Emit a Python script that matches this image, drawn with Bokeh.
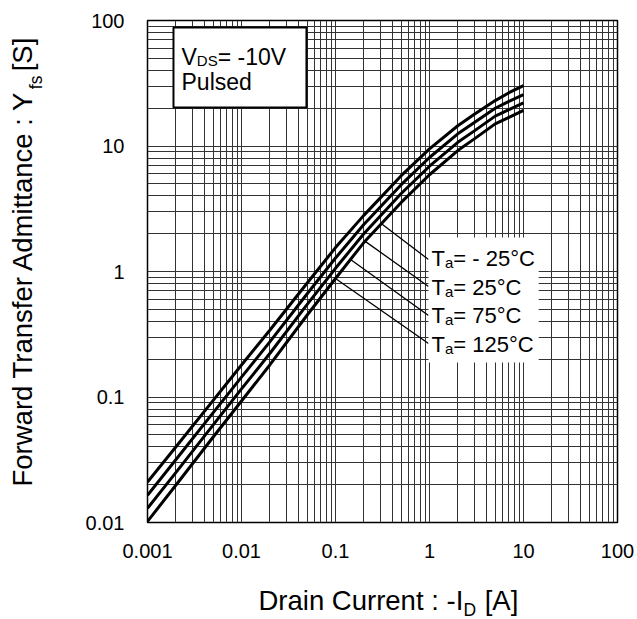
import math
from bokeh.plotting import figure
from bokeh.models import Label, BoxAnnotation, FixedTicker, CustomJSTickFormatter, Range1d
from bokeh.embed import file_html
from bokeh.resources import INLINE

# ---- data ----
current = [0.001, 0.002, 0.005, 0.01, 0.02, 0.05, 0.1, 0.2, 0.5, 1, 2, 3, 5, 7, 10]
yfs_m25 = [0.021, 0.040, 0.094, 0.18, 0.34, 0.81, 1.55, 2.8, 5.8, 9.5, 14.5, 17.9, 23.0, 26.6, 30.3]
yfs_25 = [0.0165, 0.0316, 0.075, 0.144, 0.275, 0.665, 1.28, 2.37, 4.92, 8.1, 12.5, 15.4, 20.0, 22.7, 25.7]
yfs_75 = [0.013, 0.025, 0.060, 0.116, 0.222, 0.547, 1.06, 2.0, 4.18, 6.9, 10.7, 13.2, 17.3, 19.5, 22.1]
yfs_125 = [0.0102, 0.0198, 0.048, 0.093, 0.18, 0.45, 0.88, 1.70, 3.55, 5.9, 9.2, 11.4, 15.0, 16.9, 19.2]

x_ticks = [0.001, 0.01, 0.1, 1, 10, 100]
x_tick_labels = ["0.001", "0.01", "0.1", "1", "10", "100"]
y_ticks = [0.01, 0.1, 1, 10, 100]
y_tick_labels = ["0.01", "0.1", "1", "10", "100"]

temp_labels = ["= - 25°C", "= 25°C", "= 75°C", "= 125°C"]
# leader lines (data units): start on curve, end at label
leader_x0 = [0.301, 0.209, 0.1445, 0.100]
leader_y0 = [2.43, 1.73, 1.246, 0.88]
leader_x1 = [0.976, 0.976, 0.976, 0.976]
leader_y1 = [1.246, 0.76, 0.446, 0.267]

FONT = "Liberation Sans"

p = figure(width=637, height=619, x_axis_type="log", y_axis_type="log",
           x_range=Range1d(0.001, 100), y_range=Range1d(0.01, 100),
           output_backend="svg", toolbar_location=None,
           min_border_left=147, min_border_right=20, min_border_top=20, min_border_bottom=97)
p.background_fill_color = "white"
p.border_fill_color = "white"
p.outline_line_color = "black"
p.outline_line_width = 1.5


def minor_of(ticks):
    out = []
    for t in ticks[:-1]:
        for m in range(2, 10):
            out.append(t * m)
    return out


p.xaxis.ticker = FixedTicker(ticks=x_ticks, minor_ticks=minor_of(x_ticks))
p.yaxis.ticker = FixedTicker(ticks=y_ticks, minor_ticks=minor_of(y_ticks))
fmt_code = """
const i = tv.findIndex(t => Math.abs(Math.log10(t) - Math.log10(tick)) < 1e-6);
return i >= 0 ? tl[i] : "";
"""
p.xaxis.formatter = CustomJSTickFormatter(args=dict(tv=x_ticks, tl=x_tick_labels), code=fmt_code)
p.yaxis.formatter = CustomJSTickFormatter(args=dict(tv=y_ticks, tl=y_tick_labels), code=fmt_code)

for ax in (p.xaxis, p.yaxis):
    ax.axis_line_color = None
    ax.major_tick_line_color = None
    ax.minor_tick_line_color = None
    ax.major_tick_out = 0
    ax.major_tick_in = 0
    ax.major_label_text_font = FONT
    ax.major_label_text_font_size = "20px"
    ax.major_label_text_color = "black"
p.xaxis.major_label_standoff = 17
p.yaxis.major_label_standoff = 19

for g in (p.xgrid, p.ygrid):
    g.grid_line_color = "#333333"
    g.grid_line_width = 1
    g.minor_grid_line_color = "#333333"
    g.minor_grid_line_width = 1

for ys in (yfs_m25, yfs_25, yfs_75, yfs_125):
    p.line(current, ys, line_color="black", line_width=3)

p.segment(x0=leader_x0, y0=leader_y0, x1=leader_x1, y1=leader_y1, line_color="black", line_width=1.3)

# white background behind temperature labels
p.add_layout(BoxAnnotation(left=0.976, right=14.5, bottom=0.188, top=1.866,
                           fill_color="white", fill_alpha=1.0, line_color=None))
# condition box
p.add_layout(BoxAnnotation(left=0.00189, right=0.0491, bottom=20.3, top=88,
                           fill_color="white", fill_alpha=1.0, line_color="black",
                           line_alpha=1.0, line_width=2))


def txt(x, y, s, size, angle=0.0, place="center"):
    lab = Label(x=x, y=y, x_units="screen", y_units="screen", text=s,
                text_font=FONT, text_font_size=f"{size}px", text_color="black",
                text_align="left", text_baseline="alphabetic", angle=angle)
    p.add_layout(lab, place)


# condition texts
txt(34, 466, "V", 23)
txt(34 + 0.667 * 23, 462, "DS", 15)
txt(34 + 0.667 * 23 + 1.389 * 15, 466, "= -10V", 23)
txt(34, 441, "Pulsed", 23)

# temperature labels
for i, s in enumerate(temp_labels):
    yb = 264 - i * 28.7
    txt(284, yb, "T", 22)
    txt(284 + 0.611 * 22, yb - 4, "a", 15)
    txt(284 + 0.611 * 22 + 0.556 * 15, yb, s, 22)

# axis titles: main text in side panels, subscripts as small labels in the left panel
fs = 27.5
txt(111, -9, "Drain Current : -I\u2002 [A]", fs, 0.0, "below")
y0 = 36
txt(-29, y0, "Forward Transfer Admittance : Y\u2002 [S]", fs, math.pi / 2, "left")
txt(4, y0 + 14.449 * fs, "fs", 17.5, math.pi / 2, "left")
txt(445, -87, "D", 17.5, 0.0, "left")

open("out.html", "w").write(file_html(p, INLINE))
